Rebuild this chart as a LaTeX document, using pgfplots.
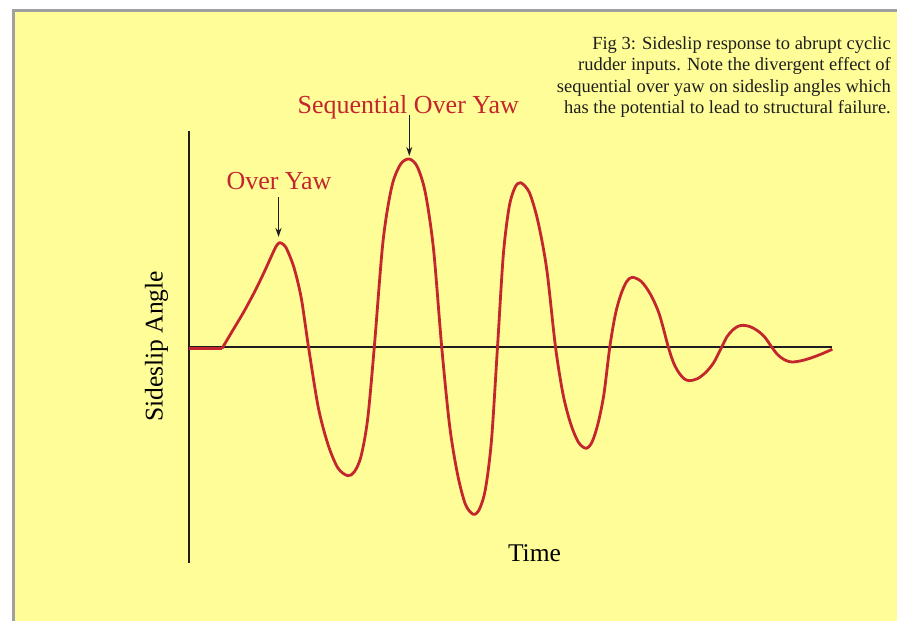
\documentclass[border=0pt]{standalone}
\usepackage{pgfplots}
\pgfplotsset{compat=1.18}
\usetikzlibrary{arrows.meta}
\usepackage{fontspec}
\setmainfont{Liberation Serif}
\definecolor{bgyellow}{RGB}{255,253,152}
\definecolor{curvered}{RGB}{196,38,46}
\definecolor{framegray}{RGB}{160,160,160}
\definecolor{axisblack}{RGB}{30,30,30}
\begin{document}
\begin{tikzpicture}
\begin{axis}[
  width=897pt, height=621pt, scale only axis,
  xmin=-189, xmax=708, ymin=-274, ymax=347,
  hide axis,
]
% background panel
\fill[white] (axis cs:-189,-274) rectangle (axis cs:708,347);
\fill[bgyellow] (axis cs:-176,-274) rectangle (axis cs:708,336.5);
\draw[framegray, line width=2.4pt] (axis cs:-175.7,-274) -- (axis cs:-175.7,336.5) -- (axis cs:708,336.5);
% axes
\addplot[axisblack, line width=1.7pt] coordinates {(0,-216) (0,216)};
\addplot[axisblack, line width=1.7pt] coordinates {(1,0) (643.3,0)};
% sideslip response
\addplot[curvered, line width=2.8pt, line join=round] coordinates {(0,-1.5) (33,-1.5)};
\addplot[curvered, line width=2.8pt, smooth, line join=round] coordinates {
(33,-1.5) (44,17) (55,35.5) (66,56) (75,74.5) (82.5,91) (87,100.5) (90.5,104.3)
(94.1,102.7) (97.75,98) (105,79.3) (112.25,49) (119.5,0)
(129.3,-60.5) (139.1,-97.8) (148.9,-121) (158.7,-128.7) (165.35,-124.8)
(172,-109.4) (178.65,-72.1) (185.3,0)
(193.98,105.3) (202.65,159.8) (211.33,182.4) (220,188) (228.18,180.5)
(236.35,154.2) (244.53,97.8) (252.7,0)
(260.6,-78.6) (268.5,-127.1) (276.4,-157.3) (284.3,-167.3) (290.35,-162.3)
(296.4,-142.2) (302.45,-93.7) (308.5,0)
(314.3,92) (320.1,139.7) (325.9,159.4) (331.7,164.3) (340.4,154.4)
(349.1,124.9) (357.8,77.2) (366.5,0)
(374.1,-47.6) (381.75,-77) (389.4,-95.2) (397,-101.3) (402.95,-95.2)
(408.9,-77) (414.85,-47.6) (420.8,0)
(426.4,32.8) (432.05,53) (437.7,65.5) (443.3,69.7) (452.3,65.5)
(461.3,53) (470.3,32.8) (479.3,0)
(484.55,-15.8) (489.8,-25.6) (495.05,-31.7) (500.3,-33.7) (508.4,-31.7)
(516.5,-25.6) (524.6,-15.8) (532.7,0)
(537.95,10.2) (543.2,16.5) (548.45,20.4) (553.7,21.7) (560.95,20.4)
(568.2,16.5) (575.45,10.2) (582.7,0)
(587.95,-7) (593.2,-11.4) (598.45,-14.1) (603.7,-15) (612,-13.8)
(621,-11.3) (632,-7.2) (643.3,-2.3)
};
% annotations
\node[curvered, anchor=base, inner sep=0pt, font=\fontsize{26}{30}\selectfont] at (axis cs:90,157) {Over Yaw};
\draw[axisblack, line width=1.3pt, -{Stealth[length=9pt,width=6pt]}] (axis cs:89.5,149.5) -- (axis cs:89.5,110);
\node[curvered, anchor=base, inner sep=0pt, font=\fontsize{26}{30}\selectfont] at (axis cs:219.3,233.7) {Sequential Over Yaw};
\draw[axisblack, line width=1.3pt, -{Stealth[length=9pt,width=6pt]}] (axis cs:220.3,232) -- (axis cs:220.3,191);
% axis labels
\node[black, anchor=base, rotate=90, inner sep=0pt, font=\fontsize{25.5}{30}\selectfont] at (axis cs:-26.3,0.5) {Sideslip Angle};
\node[black, anchor=base, inner sep=0pt, font=\fontsize{25.5}{30}\selectfont] at (axis cs:345.5,-215) {Time};
% caption
\begin{scope}[every node/.style={anchor=base east, inner sep=0pt, text=axisblack, font=\fontsize{18.5}{21.5}\selectfont}]
\node at (axis cs:702,297.5) {Fig 3: Sideslip response to abrupt cyclic};
\node at (axis cs:702,276) {rudder inputs. Note the divergent effect of};
\node at (axis cs:702,254.5) {sequential over yaw on sideslip angles which};
\node at (axis cs:702,233) {has the potential to lead to structural failure.};
\end{scope}
\end{axis}
\end{tikzpicture}
\end{document}
